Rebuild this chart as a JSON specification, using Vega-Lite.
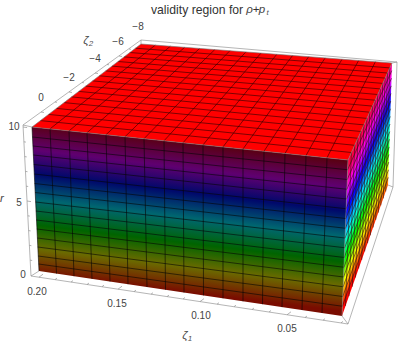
{
"$schema":"https://vega.github.io/schema/vega-lite/v6.json",
"width":399,"height":346,"padding":0,"autosize":"none",
"background":"white",
"config":{"view":{"stroke":null}},
"title":{"text":"validity region for","anchor":"start","frame":"group","dx":151,"offset":-16,"fontSize":12.2,"font":"Liberation Sans","fontWeight":"normal","color":"#333333"},
"datasets":{
"faces":[
{"face":"top","i":1,"x":32,"y":127},{"face":"top","i":2,"x":141,"y":44},{"face":"top","i":3,"x":392,"y":63},{"face":"top","i":4,"x":348,"y":160},
{"face":"front","i":1,"x":32,"y":127},{"face":"front","i":2,"x":348,"y":160},{"face":"front","i":3,"x":342,"y":316},{"face":"front","i":4,"x":39,"y":271},
{"face":"side","i":1,"x":348,"y":160},{"face":"side","i":2,"x":392,"y":63},{"face":"side","i":3,"x":388,"y":185},{"face":"side","i":4,"x":342,"y":316}
],
"lines":[
{"g":"f","x":32,"y":127,"x2":39,"y2":271},{"g":"f","x":50,"y":128.9,"x2":56.5,"y2":273.6},{"g":"f","x":69,"y":130.9,"x2":74,"y2":276.2},{"g":"f","x":87,"y":132.7,"x2":92,"y2":278.9},{"g":"f","x":106,"y":134.7,"x2":110,"y2":281.5},{"g":"f","x":125,"y":136.7,"x2":128,"y2":284.2},{"g":"f","x":144,"y":138.7,"x2":147,"y2":287},{"g":"f","x":164,"y":140.8,"x2":165.5,"y2":289.8},{"g":"f","x":183,"y":142.8,"x2":184,"y2":292.5},{"g":"f","x":203,"y":144.9,"x2":203.5,"y2":295.4},{"g":"f","x":223,"y":146.9,"x2":223,"y2":298.3},{"g":"f","x":243,"y":149,"x2":243,"y2":301.3},{"g":"f","x":264,"y":151.2,"x2":262.5,"y2":304.2},{"g":"f","x":285,"y":153.4,"x2":282,"y2":307.1},{"g":"f","x":306,"y":155.6,"x2":302,"y2":310},{"g":"f","x":327,"y":157.8,"x2":322,"y2":313},
{"g":"f","x":32.4,"y":137,"x2":347.6,"y2":169.75},{"g":"f","x":32.9,"y":146,"x2":347.25,"y2":179.5},{"g":"f","x":33.3,"y":155,"x2":346.9,"y2":189.25},{"g":"f","x":33.8,"y":164.5,"x2":346.5,"y2":199},{"g":"f","x":34.2,"y":174,"x2":346.1,"y2":208.75},{"g":"f","x":34.6,"y":183.5,"x2":345.75,"y2":218.5},{"g":"f","x":35.1,"y":192.5,"x2":345.4,"y2":228.25},{"g":"f","x":35.5,"y":202,"x2":345,"y2":238},{"g":"f","x":35.9,"y":211,"x2":344.6,"y2":247.75},{"g":"f","x":36.4,"y":220,"x2":344.25,"y2":257.5},{"g":"f","x":36.8,"y":229,"x2":343.9,"y2":267.25},{"g":"f","x":37.3,"y":238,"x2":343.5,"y2":277},{"g":"f","x":37.7,"y":247,"x2":343.1,"y2":286.75},{"g":"f","x":38.1,"y":256,"x2":342.75,"y2":296.5},{"g":"f","x":38.6,"y":264,"x2":342.4,"y2":306.25},
{"g":"t","x":50,"y":128.9,"x2":155.3,"y2":45.1},{"g":"t","x":69,"y":130.9,"x2":170.4,"y2":46.2},{"g":"t","x":87,"y":132.7,"x2":184.7,"y2":47.3},{"g":"t","x":106,"y":134.7,"x2":199.7,"y2":48.4},{"g":"t","x":125,"y":136.7,"x2":214.8,"y2":49.6},{"g":"t","x":144,"y":138.7,"x2":229.9,"y2":50.7},{"g":"t","x":164,"y":140.8,"x2":245.9,"y2":51.9},{"g":"t","x":183,"y":142.8,"x2":261,"y2":53.1},{"g":"t","x":203,"y":144.9,"x2":276.8,"y2":54.3},{"g":"t","x":223,"y":146.9,"x2":292.6,"y2":55.5},{"g":"t","x":243,"y":149,"x2":308.7,"y2":56.7},{"g":"t","x":264,"y":151.2,"x2":325.2,"y2":57.9},{"g":"t","x":285,"y":153.4,"x2":342.1,"y2":59.2},{"g":"t","x":306,"y":155.6,"x2":358.6,"y2":60.5},{"g":"t","x":327,"y":157.8,"x2":375.4,"y2":61.7},
{"g":"t","x":40.4,"y":120.6,"x2":351.4,"y2":152.5},{"g":"t","x":48.5,"y":114.4,"x2":354.7,"y2":145.3},{"g":"t","x":56.4,"y":108.4,"x2":357.9,"y2":138.3},{"g":"t","x":64.1,"y":102.6,"x2":360.9,"y2":131.5},{"g":"t","x":71.5,"y":96.9,"x2":363.9,"y2":124.9},{"g":"t","x":78.7,"y":91.4,"x2":366.9,"y2":118.4},{"g":"t","x":85.7,"y":86.1,"x2":369.7,"y2":112.2},{"g":"t","x":92.6,"y":80.9,"x2":372.4,"y2":106.1},{"g":"t","x":99.2,"y":75.8,"x2":375.1,"y2":100.2},{"g":"t","x":105.7,"y":70.9,"x2":377.7,"y2":94.5},{"g":"t","x":111.9,"y":66.1,"x2":380.3,"y2":88.9},{"g":"t","x":118.1,"y":61.5,"x2":382.7,"y2":83.4},{"g":"t","x":124,"y":56.9,"x2":385.1,"y2":78.1},{"g":"t","x":129.8,"y":52.5,"x2":387.5,"y2":73},{"g":"t","x":135.5,"y":48.2,"x2":389.8,"y2":67.9},
{"g":"s","x":347.6,"y":169.75,"x2":391.75,"y2":70.6},{"g":"s","x":347.25,"y":179.5,"x2":391.5,"y2":78.25},{"g":"s","x":346.9,"y":189.25,"x2":391.25,"y2":85.9},{"g":"s","x":346.5,"y":199,"x2":391,"y2":93.5},{"g":"s","x":346.1,"y":208.75,"x2":390.75,"y2":101.1},{"g":"s","x":345.75,"y":218.5,"x2":390.5,"y2":108.75},{"g":"s","x":345.4,"y":228.25,"x2":390.25,"y2":116.4},{"g":"s","x":345,"y":238,"x2":390,"y2":124},{"g":"s","x":344.6,"y":247.75,"x2":389.75,"y2":131.6},{"g":"s","x":344.25,"y":257.5,"x2":389.5,"y2":139.25},{"g":"s","x":343.9,"y":267.25,"x2":389.25,"y2":146.9},{"g":"s","x":343.5,"y":277,"x2":389,"y2":154.5},{"g":"s","x":343.1,"y":286.75,"x2":388.75,"y2":162.1},{"g":"s","x":342.75,"y":296.5,"x2":388.5,"y2":169.75},{"g":"s","x":342.4,"y":306.25,"x2":388.25,"y2":177.4},
{"g":"s","x":345.5,"y":305.9,"x2":351.4,"y2":152.5},{"g":"s","x":349,"y":296.2,"x2":354.7,"y2":145.3},{"g":"s","x":352.3,"y":286.7,"x2":357.9,"y2":138.3},{"g":"s","x":355.5,"y":277.5,"x2":360.9,"y2":131.5},{"g":"s","x":358.7,"y":268.5,"x2":363.9,"y2":124.9},{"g":"s","x":361.7,"y":259.9,"x2":366.9,"y2":118.4},{"g":"s","x":364.7,"y":251.4,"x2":369.7,"y2":112.2},{"g":"s","x":367.6,"y":243.2,"x2":372.4,"y2":106.1},{"g":"s","x":370.4,"y":235.3,"x2":375.1,"y2":100.2},{"g":"s","x":373.1,"y":227.5,"x2":377.7,"y2":94.5},{"g":"s","x":375.7,"y":219.9,"x2":380.3,"y2":88.9},{"g":"s","x":378.3,"y":212.6,"x2":382.7,"y2":83.4},{"g":"s","x":380.8,"y":205.4,"x2":385.1,"y2":78.1},{"g":"s","x":383.3,"y":198.4,"x2":387.5,"y2":73},{"g":"s","x":385.7,"y":191.5,"x2":389.8,"y2":67.9},
{"g":"e","x":32,"y":127,"x2":348,"y2":160},{"g":"e","x":348,"y":160,"x2":392,"y2":63},{"g":"e","x":32,"y":127,"x2":141,"y2":44},{"g":"e","x":141,"y":44,"x2":392,"y2":63},{"g":"e","x":348,"y":160,"x2":342,"y2":316},
{"g":"b","x":23,"y":125,"x2":141,"y2":40},{"g":"b","x":141,"y":40,"x2":397,"y2":62},{"g":"b","x":23,"y":125,"x2":31,"y2":276},{"g":"b","x":31,"y":276,"x2":348,"y2":324},{"g":"b","x":348,"y":324,"x2":393,"y2":187},{"g":"b","x":393,"y":187,"x2":397,"y2":62},{"g":"b","x":31,"y":276,"x2":39,"y2":271},{"g":"b","x":393,"y":187,"x2":388,"y2":185},{"g":"b","x":23,"y":125,"x2":32,"y2":127},{"g":"b","x":397,"y":62,"x2":392,"y2":63},{"g":"b","x":141,"y":40,"x2":141,"y2":44},{"g":"b","x":348,"y":324,"x2":342,"y2":316},
{"g":"k","x":39,"y":277.2,"x2":43,"y2":274.2},{"g":"k","x":55,"y":279.6,"x2":57,"y2":278.1},{"g":"k","x":71,"y":282.1,"x2":73,"y2":280.6},{"g":"k","x":87,"y":284.5,"x2":89,"y2":283},{"g":"k","x":102,"y":286.7,"x2":104,"y2":285.2},{"g":"k","x":118,"y":289.2,"x2":122,"y2":286.2},{"g":"k","x":134,"y":291.6,"x2":136,"y2":290.1},{"g":"k","x":151,"y":294.2,"x2":153,"y2":292.7},{"g":"k","x":167,"y":296.6,"x2":169,"y2":295.1},{"g":"k","x":183,"y":299,"x2":185,"y2":297.5},{"g":"k","x":200,"y":301.6,"x2":204,"y2":298.6},{"g":"k","x":217,"y":304.2,"x2":219,"y2":302.7},{"g":"k","x":234,"y":306.7,"x2":236,"y2":305.2},{"g":"k","x":252,"y":309.5,"x2":254,"y2":308},{"g":"k","x":269,"y":312,"x2":271,"y2":310.5},{"g":"k","x":287,"y":314.8,"x2":291,"y2":311.8},{"g":"k","x":305,"y":317.5,"x2":307,"y2":316},{"g":"k","x":323,"y":320.2,"x2":325,"y2":318.7},{"g":"k","x":341,"y":322.9,"x2":343,"y2":321.4},
{"g":"k","x":23.1,"y":127,"x2":27.1,"y2":127.6},{"g":"k","x":23.9,"y":141.8,"x2":25.9,"y2":142.1},{"g":"k","x":24.7,"y":156.6,"x2":26.7,"y2":156.9},{"g":"k","x":25.5,"y":171.4,"x2":27.5,"y2":171.7},{"g":"k","x":26.2,"y":186.2,"x2":28.2,"y2":186.5},{"g":"k","x":27,"y":201,"x2":31,"y2":201.6},{"g":"k","x":27.8,"y":215.8,"x2":29.8,"y2":216.1},{"g":"k","x":28.6,"y":230.6,"x2":30.6,"y2":230.9},{"g":"k","x":29.4,"y":245.4,"x2":31.4,"y2":245.7},{"g":"k","x":30.2,"y":260.2,"x2":32.2,"y2":260.5},
{"g":"k","x":41,"y":112,"x2":44,"y2":112.5},{"g":"k","x":55,"y":102,"x2":57,"y2":102.3},{"g":"k","x":69,"y":92,"x2":72,"y2":92.5},{"g":"k","x":82,"y":82.5,"x2":84,"y2":82.8},{"g":"k","x":95,"y":73,"x2":98,"y2":73.5},{"g":"k","x":107,"y":64.5,"x2":109,"y2":64.8},{"g":"k","x":119,"y":56,"x2":122,"y2":56.5},{"g":"k","x":129,"y":49,"x2":131,"y2":49.3}
],
"labels":[
{"t":"0.20","x":37,"y":292},{"t":"0.15","x":117,"y":304},{"t":"0.10","x":201,"y":316},{"t":"0.05","x":287,"y":329},
{"t":"10","x":14,"y":127},{"t":"5","x":19,"y":203},{"t":"0","x":23,"y":275},
{"t":"0","x":41,"y":98},{"t":"−2","x":69,"y":78},{"t":"−4","x":95,"y":59},{"t":"−6","x":118,"y":42},{"t":"−8","x":138,"y":27}
],
"italics":[
{"t":"ζ","x":86,"y":41},{"t":"ζ","x":185,"y":336},{"t":"r","x":2,"y":199},
{"t":"ρ","x":249.5,"y":9.5},{"t":"p","x":262,"y":9.5}
],
"plain":[{"t":"+","x":256,"y":9.5}],
"subs":[{"t":"2","x":91,"y":44},{"t":"1","x":190,"y":339},{"t":"t","x":267.5,"y":13}]
},
"encoding":{
"x":{"field":"x","type":"quantitative","scale":{"domain":[0,399],"nice":false,"zero":false},"axis":null},
"y":{"field":"y","type":"quantitative","scale":{"domain":[346,0],"nice":false,"zero":false},"axis":null}
},
"layer":[
{"data":{"name":"faces"},"transform":[{"filter":"datum.face==='front'"}],
"mark":{"type":"line","filled":true,"stroke":null,"fill":{"gradient":"linear","x1":0.5,"y1":0.085,"x2":0.3475,"y2":0.8475,"stops":[{"offset":0,"color":"#5a0014"},{"offset":0.17,"color":"#5f0070"},{"offset":0.33,"color":"#00086b"},{"offset":0.5,"color":"#006670"},{"offset":0.67,"color":"#006400"},{"offset":0.83,"color":"#6a6a00"},{"offset":1,"color":"#7a0c00"}]}},
"encoding":{"order":{"field":"i","type":"quantitative"}}},
{"data":{"name":"faces"},"transform":[{"filter":"datum.face==='side'"}],
"mark":{"type":"line","filled":true,"stroke":null,"fill":{"gradient":"linear","x1":0.56,"y1":0.19,"x2":0.76,"y2":0.59,"stops":[{"offset":0,"color":"#ff0040"},{"offset":0.17,"color":"#ff00ff"},{"offset":0.33,"color":"#0000ff"},{"offset":0.5,"color":"#00ffff"},{"offset":0.67,"color":"#00ff00"},{"offset":0.83,"color":"#ffff00"},{"offset":1,"color":"#ff0000"}]}},
"encoding":{"order":{"field":"i","type":"quantitative"}}},
{"data":{"name":"faces"},"transform":[{"filter":"datum.face==='top'"}],
"mark":{"type":"line","filled":true,"stroke":null,"fill":"#ff0000"},
"encoding":{"order":{"field":"i","type":"quantitative"}}},
{"data":{"name":"lines"},
"mark":{"type":"rule"},
"encoding":{
"x2":{"field":"x2"},"y2":{"field":"y2"},
"stroke":{"field":"g","type":"nominal","legend":null,"scale":{"domain":["f","t","s","e","b","k"],"range":["#050505","#2a0000","#301010","#777777","#8a8a8a","#8a8a8a"]}},
"strokeWidth":{"field":"g","type":"nominal","legend":null,"scale":{"domain":["f","t","s","e","b","k"],"range":[0.6,0.65,0.5,0.6,0.9,0.7]}}
}},
{"data":{"name":"labels"},"mark":{"type":"text","font":"Liberation Sans","fontSize":10,"color":"#444444","align":"center","baseline":"middle"},"encoding":{"text":{"field":"t"}}},
{"data":{"name":"italics"},"mark":{"type":"text","font":"Liberation Sans","fontSize":11.5,"fontStyle":"italic","color":"#444444","align":"center","baseline":"middle"},"encoding":{"text":{"field":"t"}}},
{"data":{"name":"plain"},"mark":{"type":"text","font":"Liberation Sans","fontSize":11.5,"color":"#333333","align":"center","baseline":"middle"},"encoding":{"text":{"field":"t"}}},
{"data":{"name":"subs"},"mark":{"type":"text","font":"Liberation Sans","fontSize":8,"fontStyle":"italic","color":"#555555","align":"center","baseline":"middle"},"encoding":{"text":{"field":"t"}}}
]
}
